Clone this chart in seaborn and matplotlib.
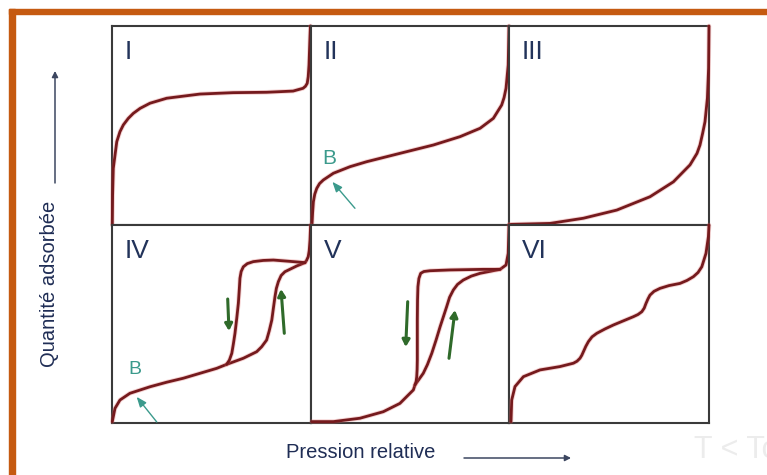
import matplotlib
matplotlib.use("Agg")
import matplotlib.pyplot as plt
import matplotlib.patheffects as pe
from matplotlib.patches import Rectangle, FancyArrowPatch
import pandas as pd
import seaborn as sns

sns.set_theme(style="white")
plt.rcParams["font.family"] = ["Liberation Sans", "DejaVu Sans"]

# ---- isotherm shapes (relative pressure, adsorbed amount), each panel on 0..1 ----
type1_x = [0.0015, 0.003, 0.0065, 0.024, 0.04, 0.057, 0.082, 0.107, 0.141, 0.191, 0.275, 0.442, 0.608, 0.777, 0.91, 0.96, 0.972, 0.981, 0.986, 0.990, 0.995, 0.997]
type1_y = [0.0, 0.151, 0.285, 0.419, 0.469, 0.503, 0.536, 0.561, 0.586, 0.612, 0.637, 0.658, 0.665, 0.667, 0.673, 0.687, 0.697, 0.712, 0.745, 0.804, 0.95, 1.0]

type2_x = [0.005, 0.008, 0.012, 0.019, 0.029, 0.043, 0.062, 0.113, 0.197, 0.281, 0.449, 0.618, 0.753, 0.854, 0.921, 0.963, 0.975, 0.985, 0.996, 1.0]
type2_y = [0.0, 0.06, 0.117, 0.155, 0.184, 0.208, 0.226, 0.26, 0.293, 0.318, 0.36, 0.402, 0.444, 0.486, 0.536, 0.603, 0.64, 0.687, 0.804, 1.0]

type3_x = [0.0, 0.205, 0.372, 0.539, 0.705, 0.822, 0.905, 0.94, 0.955, 0.968, 0.98, 0.992, 0.998, 1.0]
type3_y = [0.003, 0.008, 0.034, 0.075, 0.142, 0.217, 0.302, 0.36, 0.402, 0.46, 0.519, 0.637, 0.788, 1.0]

type4_ads_x = [0.0015, 0.015, 0.04, 0.09, 0.191, 0.275, 0.358, 0.442, 0.526, 0.576, 0.66, 0.727, 0.752, 0.777, 0.79, 0.803, 0.811, 0.819, 0.826, 0.836, 0.85, 0.869, 0.928, 0.97, 0.978, 0.986, 0.991, 0.995, 0.998]
type4_ads_y = [0.007, 0.074, 0.116, 0.15, 0.183, 0.206, 0.226, 0.251, 0.276, 0.296, 0.327, 0.36, 0.385, 0.419, 0.465, 0.52, 0.58, 0.638, 0.68, 0.714, 0.745, 0.764, 0.793, 0.81, 0.822, 0.84, 0.87, 0.924, 1.0]
type4_des_x = [0.576, 0.59, 0.602, 0.61, 0.618, 0.627, 0.635, 0.64, 0.643, 0.649, 0.66, 0.68, 0.71, 0.76, 0.811, 0.911, 0.97]
type4_des_y = [0.296, 0.318, 0.352, 0.40, 0.453, 0.53, 0.605, 0.68, 0.731, 0.765, 0.789, 0.805, 0.815, 0.821, 0.823, 0.815, 0.81]

type5_ads_x = [0.0035, 0.113, 0.247, 0.365, 0.449, 0.517, 0.525, 0.545, 0.567, 0.588, 0.61, 0.632, 0.652, 0.685, 0.70, 0.719, 0.74, 0.769, 0.81, 0.854, 0.955, 0.985, 0.996, 1.0]
type5_ads_y = [0.007, 0.007, 0.024, 0.057, 0.099, 0.167, 0.192, 0.22, 0.251, 0.295, 0.352, 0.42, 0.486, 0.587, 0.635, 0.672, 0.70, 0.722, 0.742, 0.756, 0.776, 0.798, 0.857, 1.0]
type5_des_x = [0.525, 0.531, 0.534, 0.536, 0.537, 0.537, 0.538, 0.54, 0.545, 0.554, 0.57, 0.601, 0.702, 0.87, 0.955]
type5_des_y = [0.192, 0.21, 0.234, 0.27, 0.318, 0.52, 0.62, 0.688, 0.73, 0.756, 0.765, 0.769, 0.773, 0.776, 0.776]

type6_x = [0.01, 0.0135, 0.03, 0.072, 0.155, 0.255, 0.322, 0.34, 0.355, 0.364, 0.372, 0.384, 0.397, 0.415, 0.439, 0.48, 0.522, 0.622, 0.645, 0.664, 0.676, 0.685, 0.695, 0.705, 0.725, 0.755, 0.80, 0.855, 0.89, 0.922, 0.945, 0.964, 0.985, 0.997, 1.0]
type6_y = [0.007, 0.116, 0.184, 0.234, 0.268, 0.285, 0.302, 0.312, 0.327, 0.342, 0.36, 0.387, 0.411, 0.435, 0.453, 0.475, 0.495, 0.537, 0.548, 0.562, 0.58, 0.604, 0.627, 0.646, 0.665, 0.68, 0.694, 0.705, 0.72, 0.739, 0.76, 0.789, 0.857, 0.941, 1.0]

panel_labels = ["I", "II", "III", "IV", "V", "VI"]
panel_curves = [
    [(type1_x, type1_y)],
    [(type2_x, type2_y)],
    [(type3_x, type3_y)],
    [(type4_ads_x, type4_ads_y), (type4_des_x, type4_des_y)],
    [(type5_ads_x, type5_ads_y), (type5_des_x, type5_des_y)],
    [(type6_x, type6_y)],
]

W, H = 767, 475
fig = plt.figure(figsize=(W / 100, H / 100), dpi=100)
fig.patch.set_facecolor("white")


def fx(px):
    return px / W


def fy(py):
    return 1 - py / H


# orange frame on the left and top
orange = "#c55a11"
fig.patches.append(Rectangle((fx(9), 0), fx(6), fy(9), transform=fig.transFigure,
                             color=orange, zorder=0))
fig.patches.append(Rectangle((fx(9), fy(14)), 1 - fx(9), 5 / H,
                             transform=fig.transFigure, color=orange, zorder=0))

col_edges = [112, 311, 509, 709]
row_edges = [26, 225, 423]

curve_color = "#751a1d"
halo = [pe.Stroke(linewidth=3.3, foreground="#e06a6a", alpha=0.3), pe.Normal()]

axes = []
for i, (lab, curves) in enumerate(zip(panel_labels, panel_curves)):
    r, c = divmod(i, 3)
    x0, x1 = col_edges[c], col_edges[c + 1]
    y0, y1 = row_edges[r], row_edges[r + 1]
    ax = fig.add_axes([fx(x0), fy(y1), (x1 - x0) / W, (y1 - y0) / H])
    for xs, ys in curves:
        df = pd.DataFrame({"p": xs, "q": ys})
        sns.lineplot(data=df, x="p", y="q", sort=False, estimator=None, ax=ax,
                     color=curve_color, linewidth=2.0, zorder=4)
    for ln in ax.lines:
        ln.set_clip_on(False)
        ln.set_path_effects(halo)
        ln.set_solid_capstyle("round")
        ln.set_solid_joinstyle("round")
    ax.set_xlim(0, 1)
    ax.set_ylim(0, 1)
    ax.set_xticks([])
    ax.set_yticks([])
    ax.set_xlabel("")
    ax.set_ylabel("")
    for s in ax.spines.values():
        s.set_color("#3a3a3a")
        s.set_linewidth(1.5)
        s.set_visible(True)
    ax.text(0.063, 0.835, lab, transform=ax.transAxes, fontsize=19,
            color="#22335a", ha="left", va="baseline")
    axes.append(ax)

# point B markers with their arrows
teal = "#3b9a8c"
axes[1].text(0.059, 0.305, "B", transform=axes[1].transAxes, fontsize=15,
             color=teal, ha="left", va="baseline")
axes[1].annotate("", xy=(0.108, 0.217), xytext=(0.222, 0.084),
                 xycoords="axes fraction", textcoords="axes fraction",
                 arrowprops=dict(arrowstyle="-|>,head_length=0.5,head_width=0.2",
                                 color=teal, lw=1.0, shrinkA=0, shrinkB=0))
axes[3].text(0.082, 0.247, "B", transform=axes[3].transAxes, fontsize=14,
             color=teal, ha="left", va="baseline")
axes[3].annotate("", xy=(0.124, 0.132), xytext=(0.225, 0.005),
                 xycoords="axes fraction", textcoords="axes fraction",
                 arrowprops=dict(arrowstyle="-|>,head_length=0.5,head_width=0.2",
                                 color=teal, lw=1.0, shrinkA=0, shrinkB=0))

# hysteresis direction arrows
green = "#2f6a2a"
green_arrows = [
    ((227.7, 299.0), (229.0, 331.0)),
    ((284.3, 333.3), (281.0, 289.0)),
    ((407.7, 301.7), (405.7, 347.0)),
    ((449.0, 358.3), (455.0, 310.0)),
]
for (tx, ty), (hx, hy) in green_arrows:
    fig.add_artist(FancyArrowPatch(
        (fx(tx), fy(ty)), (fx(hx), fy(hy)), transform=fig.transFigure,
        arrowstyle="-|>,head_length=4,head_width=2.2", color=green, lw=2.2,
        shrinkA=0, shrinkB=0, zorder=6))

# axis titles with their arrows
navy = "#1f2d55"
fig.text(fx(50), fy(283.5), "Quantité adsorbée", rotation=90, fontsize=14.5,
         color=navy, ha="center", va="center")
fig.add_artist(FancyArrowPatch(
    (fx(55), fy(183)), (fx(55), fy(71)), transform=fig.transFigure,
    arrowstyle="-|>,head_length=3.5,head_width=1.8", color="#3c4660", lw=1.1,
    shrinkA=0, shrinkB=0))
fig.text(fx(286), fy(457.5), "Pression relative", fontsize=14.5, color=navy,
         ha="left", va="baseline")
fig.add_artist(FancyArrowPatch(
    (fx(464), fy(458)), (fx(571), fy(458)), transform=fig.transFigure,
    arrowstyle="-|>,head_length=3.5,head_width=1.8", color="#3c4660", lw=1.1,
    shrinkA=0, shrinkB=0))

fig.text(fx(694), fy(458.5), "T < Tc", fontsize=22, color="#ececec",
         ha="left", va="baseline")

fig.savefig("out.png", dpi=100)
